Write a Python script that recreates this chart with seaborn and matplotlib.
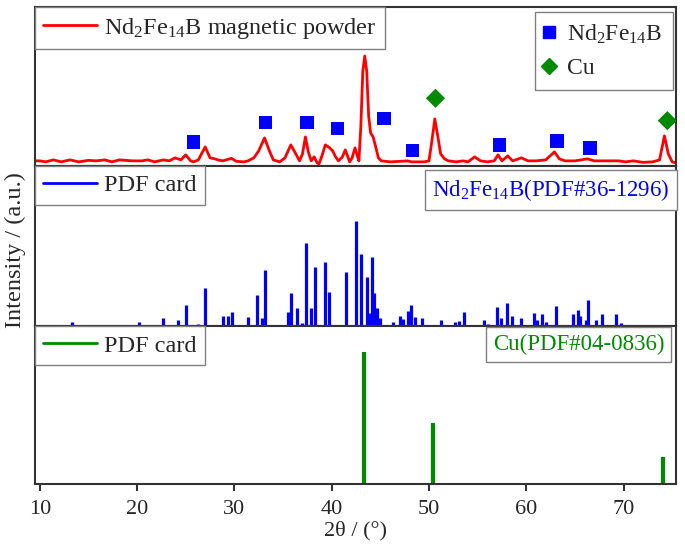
import numpy as np
import pandas as pd
import matplotlib
matplotlib.use("Agg")
import matplotlib.pyplot as plt
from matplotlib.lines import Line2D
import seaborn as sns

# ---------- data ----------
# measured pattern (2theta, intensity in arbitrary units)
xrd_2theta = [9.6, 10.0, 10.6, 11.4, 12.2, 13.1, 14.0, 15.0, 15.8, 16.7, 17.4, 18.2,
              19.5, 20.5, 21.1, 21.8, 22.7, 23.3, 23.9, 24.5, 25.0, 25.5, 25.8, 26.3,
              27.0, 27.5, 28.0, 28.3, 28.8, 29.7, 30.2, 31.0, 31.4, 32.0, 32.5, 33.1,
              33.6, 34.0, 34.65, 35.2, 35.8, 36.2, 36.7, 37.0, 37.3, 37.6, 37.9, 38.2,
              38.5, 38.7, 39.0, 39.35, 39.8, 40.1, 40.4, 40.7, 41.1, 41.4, 41.7, 41.85,
              42.1, 42.4, 42.7, 42.8, 43.0, 43.2, 43.4, 43.6, 43.8, 44.0, 44.26, 44.5,
              44.8, 45.1, 46.0, 47.0, 47.8, 48.2, 48.8, 49.5, 50.0, 50.3, 50.6, 50.9,
              51.2, 51.6, 52.0, 52.8, 53.5, 54.0, 54.7, 55.3, 56.0, 56.7, 57.1, 57.5,
              58.1, 58.6, 59.5, 60.2, 61.0, 62.0, 62.9, 63.4, 64.0, 65.0, 66.3, 67.0,
              68.0, 69.5, 70.2, 71.0, 72.0, 73.0, 73.7, 74.2, 74.6, 75.0, 75.4]
xrd_int = [5, 5, 4, 6, 4, 6, 4, 5.5, 5, 6, 4, 6,
           5, 5, 6, 4, 6, 5, 8, 6, 11, 5, 4, 6,
           19, 8, 7, 6, 5, 7.5, 4.5, 4, 5, 8, 15, 28,
           15, 6, 4, 8, 21, 14, 5, 12, 29, 14, 5, 9,
           3, 2, 10, 21, 18, 15, 9, 5, 9, 16, 8, 4,
           8, 18, 8, 5, 40, 95, 110, 95, 50, 33, 29, 20,
           8, 5, 4, 4.5, 5, 4, 4, 4, 5, 25, 47, 30,
           12, 7, 5, 4, 5, 4, 9, 5, 4, 5, 11, 5,
           10, 5, 8, 5, 5, 6, 14, 7, 5, 5, 7, 5,
           5, 5, 4, 5, 3.5, 4, 6, 30, 12, 4, 3]

# phase markers above the peaks
nd_mark_x = [25.8, 33.2, 37.45, 40.6, 45.4, 48.3, 57.25, 63.15, 66.55]
nd_mark_y = [23.7, 43.3, 43.3, 37.3, 47.3, 15.3, 21, 25, 18]
cu_mark_x = [50.67, 74.5]
cu_mark_y = [67.7, 45.3]

# Nd2Fe14B reference card (PDF#36-1296)
nd_pdf_pos = [13.26, 20.2, 22.7, 24.2, 25.0, 26.3, 27.0, 28.8, 29.3, 29.75, 31.4,
              32.3, 32.8, 33.1, 35.5, 35.8, 36.4, 36.9, 37.4, 37.85, 38.3, 39.35,
              39.7, 41.5, 42.45, 43.05, 43.67, 43.85, 44.1, 44.3, 44.7, 45.0, 46.35,
              47.0, 47.3, 47.85, 48.2, 48.55, 49.3, 51.2, 52.65, 53.1, 53.6, 55.7,
              56.05, 57.0, 57.45, 58.05, 58.55, 59.5, 60.75, 61.15, 61.65, 62.0,
              63.1, 64.8, 65.3, 65.55, 66.1, 66.35, 67.2, 67.75, 69.25, 69.7]
nd_pdf_int = [4, 4, 8, 6, 21, 2, 38, 10, 10, 14, 9,
              31, 8, 56, 14, 33, 18, 3, 83, 18, 59, 64,
              34, 54, 105, 72, 49, 13, 69, 33, 18, 8, 4,
              10, 7, 15, 21, 9, 8, 6, 4, 5, 14, 6,
              2, 19, 8, 23, 10, 8, 13, 6, 12, 4,
              20, 12, 16, 10, 6, 26, 6, 12, 12, 3]

# Cu reference card (PDF#04-0836)
cu_pdf_pos = [43.3, 50.4, 74.1]
cu_pdf_int = [132, 61, 27]

xrd = pd.DataFrame({"two_theta": xrd_2theta, "intensity": xrd_int})
marks = pd.DataFrame({"two_theta": nd_mark_x + cu_mark_x,
                      "y": nd_mark_y + cu_mark_y,
                      "phase": ["Nd2Fe14B"] * len(nd_mark_x) + ["Cu"] * len(cu_mark_x)})

# ---------- style ----------
sns.set_theme(style="ticks")
plt.rcParams["font.family"] = ["Liberation Serif", "DejaVu Serif"]
plt.rcParams["mathtext.fontset"] = "custom"
plt.rcParams["mathtext.rm"] = "Liberation Serif"
plt.rcParams["mathtext.it"] = "Liberation Serif:italic"

RED, BLUE, GREEN = "#ff0000", "#0000ff", "#008a00"
EDGE = "#333333"
FS = 17.5
nd_label = r"Nd$_\mathregular{2}$Fe$_\mathregular{14}$B"

fig = plt.figure(figsize=(6.85, 5.51), dpi=100)
left, right = 0.051, 0.987
ax1 = fig.add_axes([left, 0.699, right - left, 0.288])
ax2 = fig.add_axes([left, 0.408, right - left, 0.291], sharex=ax1)
ax3 = fig.add_axes([left, 0.122, right - left, 0.286], sharex=ax1)

for ax in (ax1, ax2, ax3):
    for s in ax.spines.values():
        s.set_color(EDGE)
        s.set_linewidth(1.5)
    ax.set_yticks([])
    ax.set_ylabel("")

leg_kw = dict(fontsize=FS, frameon=True, fancybox=False, framealpha=1,
              edgecolor="#808080", borderaxespad=0, handlelength=2.2,
              handletextpad=0.3, borderpad=0.35)
box_kw = dict(boxstyle="square,pad=0.3", fc="white", ec="#808080", lw=1)

# ---------- panel 1: measured pattern ----------
sns.lineplot(data=xrd, x="two_theta", y="intensity", ax=ax1, color=RED, lw=2,
             legend=False)
sns.scatterplot(data=marks, x="two_theta", y="y", hue="phase", style="phase",
                markers={"Nd2Fe14B": "s", "Cu": "D"},
                palette={"Nd2Fe14B": BLUE, "Cu": GREEN},
                s=95, edgecolor="none", ax=ax1, legend=False, zorder=3)
ax1.set_ylim(0, 159)
ax1.set_ylabel("")
l1 = ax1.legend(handles=[Line2D([], [], color=RED, lw=2)],
                labels=[nd_label + " magnetic powder"], loc="upper left", **leg_kw)
ax1.add_artist(l1)
mk = [Line2D([], [], ls="none", marker="s", color=BLUE, ms=9),
      Line2D([], [], ls="none", marker="D", color=GREEN, ms=8)]
ax1.legend(handles=mk, labels=[nd_label, "Cu"], loc="upper right",
           bbox_to_anchor=(0.995, 0.97), fontsize=17, frameon=True, fancybox=False,
           framealpha=1, edgecolor="#808080", borderaxespad=0, handlelength=0.3,
           handletextpad=0.6, labelspacing=0.5, borderpad=0.45)

# ---------- panel 2: Nd2Fe14B card ----------
ax2.vlines(nd_pdf_pos, 0, nd_pdf_int, color=BLUE, lw=2.3)
ax2.set_ylim(0, 160)
ax2.legend(handles=[Line2D([], [], color=BLUE, lw=2)], labels=["PDF card"],
           loc="upper left", **leg_kw)
ax2.text(0.99, 0.93, nd_label + "(PDF#36-1296)", transform=ax2.transAxes,
         ha="right", va="top", fontsize=16.5, color=BLUE, bbox=box_kw)

# ---------- panel 3: Cu card ----------
ax3.vlines(cu_pdf_pos, 0, cu_pdf_int, color=GREEN, lw=3)
ax3.set_ylim(0, 158)
ax3.legend(handles=[Line2D([], [], color=GREEN, lw=2)], labels=["PDF card"],
           loc="upper left", **leg_kw)
ax3.text(0.982, 0.95, "Cu(PDF#04-0836)", transform=ax3.transAxes,
         ha="right", va="top", fontsize=16.5, color=GREEN, bbox=box_kw)

# ---------- axes ----------
ax3.set_xlim(9.5, 75.4)
ax3.set_xticks([10, 20, 30, 40, 50, 60, 70])
ax3.tick_params(axis="x", direction="out", length=5, width=1.5, color=EDGE,
                labelsize=16, pad=7)
ax3.set_xlabel("2θ / (°)", fontsize=16, labelpad=1)
for ax in (ax1, ax2):
    ax.tick_params(axis="x", bottom=False, labelbottom=False)
    ax.set_xlabel("")

fig.text(0.022, 0.546, "Intensity / (a.u.)", rotation=90, ha="center",
         va="center", fontsize=17.5)

fig.savefig("out.png", dpi=100)
